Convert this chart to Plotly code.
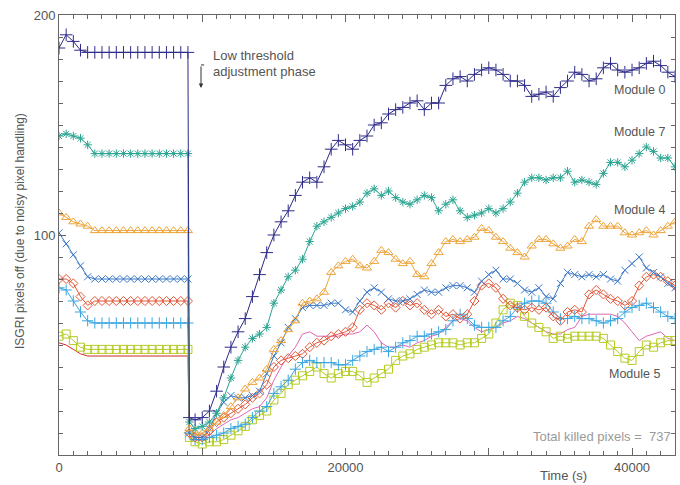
import plotly.graph_objects as go

# ---------------- data ----------------
time_s = list(range(0, 9001, 500)) + [9100] + list(range(9500, 43001, 500))

module0 = [185, 191, 188, 184] + [183] * 15 + [17] + [
    16, 17, 20, 29, 40, 49, 56, 62, 72, 82,
    92, 100, 106, 111, 118, 124, 126, 124, 131, 139,
    143, 141, 139, 143, 145, 150, 151, 155, 157, 158,
    160, 161, 157, 160, 160, 168, 171, 172, 170, 173,
    175, 176, 175, 173, 170, 170, 168, 163, 164, 165,
    163, 167, 170, 174, 173, 170, 171, 176, 178, 175,
    174, 175, 176, 178, 179, 177, 174, 172]

module7 = [145, 146, 145, 144, 141] + [137] * 14 + [15] + [
    12, 13, 15, 19, 26, 35, 43, 49, 53, 55,
    58, 69, 75, 81, 84, 89, 97, 104, 106, 108,
    110, 112, 113, 115, 119, 121, 118, 120, 117, 115,
    114, 116, 118, 117, 111, 114, 116, 111, 108, 109,
    110, 112, 110, 112, 115, 119, 124, 126, 126, 125,
    126, 126, 129, 124, 125, 124, 123, 128, 133, 133,
    131, 134, 137, 140, 138, 135, 135, 131]

module4 = [110, 108, 106, 105, 104] + [102] * 14 + [12] + [
    10, 10, 12, 15, 18, 22, 26, 30, 33, 35,
    39, 48, 52, 57, 61, 69, 70, 71, 74, 83,
    86, 88, 89, 86, 85, 88, 93, 92, 89, 87,
    88, 82, 81, 87, 92, 97, 98, 97, 98, 99,
    103, 102, 99, 97, 94, 92, 90, 95, 98, 98,
    96, 94, 95, 98, 97, 104, 107, 104, 104, 104,
    101, 100, 101, 102, 100, 102, 104, 106]

module_blue = [101, 96, 91, 86, 81] + [80] * 14 + [10] + [
    8, 8, 12, 19, 24, 27, 26, 26, 27, 29,
    37, 45, 51, 58, 62, 67, 68, 68, 68, 69,
    69, 66, 65, 70, 74, 76, 74, 71, 70, 70,
    71, 73, 75, 74, 74, 76, 77, 77, 76, 74,
    79, 82, 84, 80, 80, 78, 75, 74, 76, 72,
    71, 78, 83, 82, 81, 82, 81, 82, 80, 79,
    84, 87, 90, 85, 83, 81, 78, 76]

module_red = [80, 80, 78, 72, 68] + [70] * 14 + [10] + [
    8, 8, 11, 15, 17, 19, 21, 23, 26, 28,
    32, 40, 43, 44, 45, 46, 49, 51, 52, 54,
    55, 56, 58, 66, 69, 68, 66, 69, 67, 70,
    68, 69, 66, 64, 66, 63, 64, 62, 64, 70,
    77, 78, 76, 71, 68, 67, 66, 67, 66, 67,
    63, 61, 65, 66, 65, 73, 75, 73, 71, 70,
    68, 70, 77, 81, 82, 81, 79, 77]

module_lightblue = [76, 75, 70, 65, 61] + [60] * 14 + [10] + [
    7, 7, 8, 9, 10, 12, 13, 14, 17, 20,
    22, 28, 31, 34, 39, 42, 43, 42, 42, 42,
    41, 41, 43, 45, 47, 48, 49, 47, 49, 51,
    52, 54, 54, 55, 56, 57, 61, 64, 62, 59,
    58, 58, 58, 61, 63, 67, 69, 70, 70, 69,
    65, 62, 62, 63, 62, 62, 61, 60, 61, 62,
    65, 67, 68, 69, 67, 65, 63, 62]

module5 = [54, 55, 52, 49] + [48] * 15 + [8] + [
    6, 5, 6, 6, 7, 9, 11, 13, 16, 18,
    20, 25, 28, 32, 34, 36, 38, 40, 37, 35,
    37, 38, 38, 36, 33, 35, 37, 39, 43, 45,
    46, 48, 49, 50, 51, 51, 51, 50, 51, 51,
    53, 55, 60, 66, 69, 68, 63, 60, 58, 56,
    53, 54, 53, 54, 54, 54, 54, 53, 50, 47,
    44, 43, 47, 50, 49, 51, 52, 52]

module_line = [51, 50, 48, 46] + [45] * 15 + [10] + [
    8, 8, 9, 12, 14, 16, 17, 19, 21, 22,
    26, 34, 40, 45, 49, 55, 56, 54, 54, 54,
    54, 55, 55, 56, 59, 56, 51, 49, 49, 50,
    49, 51, 52, 54, 55, 58, 61, 62, 61, 58,
    56, 57, 58, 60, 61, 63, 62, 60, 58, 56,
    55, 55, 57, 58, 63, 64, 64, 64, 64, 63,
    60, 56, 52, 54, 55, 56, 53, 52]

x_tickvals = [0, 10000, 20000, 30000, 40000]
x_ticktext = ["0", "", "20000", "", "40000"]
y_tickvals = [0, 100, 200]
y_ticktext = ["", "100", "200"]

for s in (module0, module7, module4, module_blue, module_red,
          module_lightblue, module5, module_line):
    assert len(s) == len(time_s), len(s)

# ---------------- figure ----------------
fig = go.Figure()
drop_idx = time_s.index(9100)

# thin line series (no markers): red before the drop, pink after
fig.add_trace(go.Scatter(x=time_s[:drop_idx + 1], y=module_line[:drop_idx + 1],
                         mode="lines", line=dict(color="#cc2a2a", width=1)))
fig.add_trace(go.Scatter(x=time_s[drop_idx:], y=module_line[drop_idx:],
                         mode="lines", line=dict(color="#e066b8", width=1)))

styles = [
    (module5, "#b7cb25", "square-open", 8),
    (module_lightblue, "#3aa6e0", "cross-thin-open", 8),
    (module_red, "#e2583a", "diamond-open", 7),
    (module_blue, "#3b78c6", "x-thin-open", 7),
    (module4, "#eea43a", "triangle-up-open", 8),
    (module7, "#2ba592", "asterisk-open", 7),
    (module0, "#2e2b88", "cross-thin-open", 9),
]
for vals, col, sym, sz in styles:
    fig.add_trace(go.Scatter(
        x=time_s, y=vals, mode="lines+markers",
        line=dict(color=col, width=1),
        marker=dict(symbol=sym, size=sz, color=col, line=dict(color=col, width=1)),
    ))

axis_col = "#666666"
fig.update_layout(
    width=680, height=485,
    margin=dict(l=59, r=5, t=15, b=30),
    paper_bgcolor="white", plot_bgcolor="white",
    showlegend=False,
    font=dict(family="Liberation Sans, Arial, sans-serif", size=13, color="#555555"),
)
fig.update_xaxes(
    range=[0, 43000], tickmode="array", tickvals=x_tickvals, ticktext=x_ticktext,
    ticks="inside", ticklen=7, tickcolor=axis_col, showline=True, linecolor=axis_col,
    linewidth=1, mirror="ticks", showgrid=False, zeroline=False,
    tickfont=dict(size=13, color="#555555"),
    minor=dict(ticks="inside", ticklen=4, dtick=1000, tick0=0, tickcolor=axis_col, showgrid=False),
)
fig.update_yaxes(
    range=[0, 200], tickmode="array", tickvals=y_tickvals, ticktext=y_ticktext,
    ticks="inside", ticklen=7, tickcolor=axis_col, showline=True, linecolor=axis_col,
    linewidth=1, mirror="ticks", showgrid=False, zeroline=False,
    tickfont=dict(size=13, color="#555555"),
    minor=dict(ticks="inside", ticklen=4, dtick=10, tick0=0, tickcolor=axis_col, showgrid=False),
)

txt = "#555555"
annos = [
    dict(x=10610, y=181.4, text="Low threshold", xanchor="left", yanchor="middle", size=13),
    dict(x=10610, y=174.5, text="adjustment phase", xanchor="left", yanchor="middle", size=13),
    dict(x=38600, y=166.0, text="Module 0", xanchor="left", yanchor="middle", size=12.5),
    dict(x=38600, y=146.8, text="Module 7", xanchor="left", yanchor="middle", size=12.5),
    dict(x=38600, y=111.4, text="Module 4", xanchor="left", yanchor="middle", size=12.5),
    dict(x=38250, y=36.8, text="Module 5", xanchor="left", yanchor="middle", size=12.5),
]
for a in annos:
    fig.add_annotation(x=a["x"], y=a["y"], xref="x", yref="y", text=a["text"],
                       xanchor=a["xanchor"], yanchor=a["yanchor"], showarrow=False,
                       font=dict(size=a["size"], color=txt))

fig.add_annotation(x=(563 - 59) / 616, y=-(475 - 455) / 440, xref="paper", yref="paper",
                   text="Time (s)", xanchor="center", yanchor="middle", showarrow=False,
                   font=dict(size=13, color=txt))

fig.add_annotation(x=42860, y=8.2, xref="x", yref="y",
                   text="Total killed pixels =\u00a0\u00a0737", xanchor="right",
                   yanchor="middle", showarrow=False,
                   font=dict(size=13, color="#9a9a9a"))

fig.add_annotation(xref="paper", yref="paper", x=(20 - 59) / 616, y=0.509,
                   text="ISGRI pixels off (due to noisy pixel handling)",
                   textangle=-90, showarrow=False, xanchor="center", yanchor="middle",
                   font=dict(size=12, color=txt))

# small bracket + arrow under the "Low threshold" note
fig.add_annotation(x=9912, y=166.8, ax=9912, ay=177.3, xref="x", yref="y",
                   axref="x", ayref="y", text="", showarrow=True,
                   arrowhead=2, arrowsize=0.9, arrowwidth=1, arrowcolor="#333333")
fig.add_shape(type="line", x0=9912, x1=10130, y0=177.3, y1=177.3,
              xref="x", yref="y", line=dict(color="#333333", width=1))

fig.write_html("out.html", config={"displayModeBar": False},
               post_script="document.body.style.margin='0';")
